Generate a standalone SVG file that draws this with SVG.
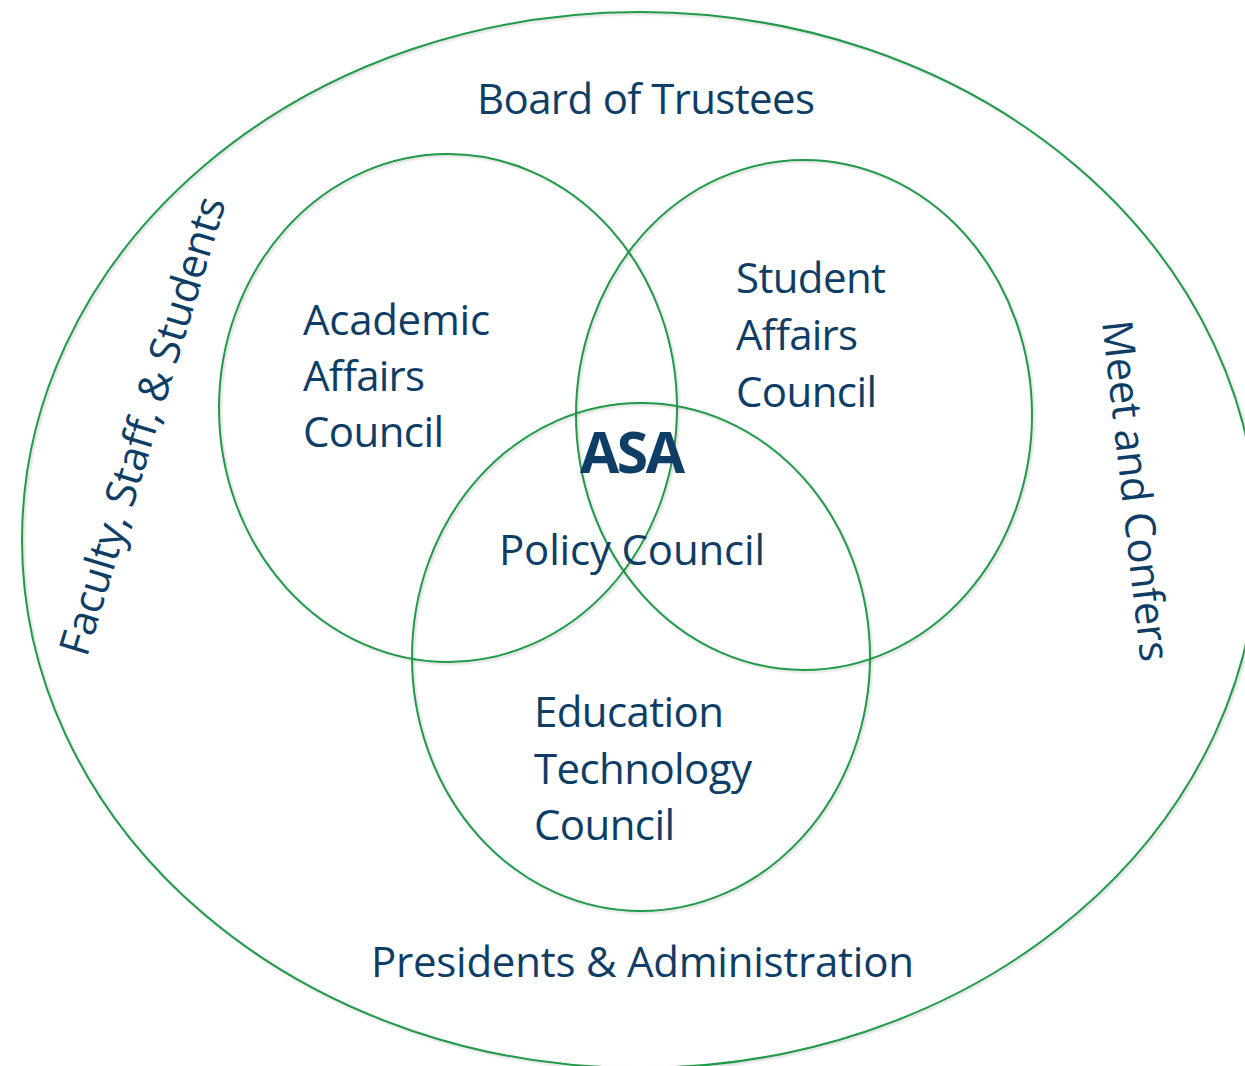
<svg xmlns="http://www.w3.org/2000/svg" width="1245" height="1066" viewBox="0 0 1245 1066">
<defs>
<filter id="sh" x="-5%" y="-5%" width="110%" height="110%">
<feDropShadow dx="1.5" dy="1.5" stdDeviation="1.2" flood-color="#000" flood-opacity="0.18"/>
</filter>
<style>
.ring{fill:none;stroke:#21994A;stroke-width:2;filter:url(#sh)}
.t{font-family:"Open Sans","Liberation Sans",sans-serif;font-size:42px;fill:#0E3D66}
.b{font-weight:bold;font-size:57px}
</style>
</defs>
<rect width="1245" height="1066" fill="#fff"/>
<g id="outer">
<ellipse class="ring" cx="640" cy="540" rx="618" ry="528"/>
<text class="t" x="477" y="114" textLength="338">Board of Trustees</text>
<text class="t" x="371" y="977" textLength="543">Presidents &amp; Administration</text>
<text class="t" transform="translate(143,426) rotate(-73)" x="0" y="14" text-anchor="middle" textLength="477">Faculty, Staff, &amp; Students</text>
<text class="t" transform="translate(1102,322) rotate(83.5)" x="0" y="0" textLength="343">Meet and Confers</text>
</g>
<g id="academic">
<ellipse class="ring" cx="448" cy="408" rx="229" ry="254"/>
<text class="t" x="303" y="335" textLength="187">Academic</text>
<text class="t" x="303" y="391" textLength="122">Affairs</text>
<text class="t" x="303" y="447" textLength="141">Council</text>
</g>
<g id="student">
<ellipse class="ring" cx="804" cy="415" rx="228" ry="255"/>
<text class="t" x="736" y="293" textLength="150">Student</text>
<text class="t" x="736" y="350" textLength="122">Affairs</text>
<text class="t" x="736" y="407" textLength="141">Council</text>
</g>
<g id="education">
<ellipse class="ring" cx="641" cy="657" rx="229" ry="254"/>
<text class="t" x="534" y="727" textLength="190">Education</text>
<text class="t" x="534" y="784" textLength="218">Technology</text>
<text class="t" x="534" y="840" textLength="141">Council</text>
</g>
<g id="asa">
<text class="t b" x="580" y="473" textLength="105">ASA</text>
<text class="t" x="499" y="565" textLength="266">Policy Council</text>
</g>
</svg>
